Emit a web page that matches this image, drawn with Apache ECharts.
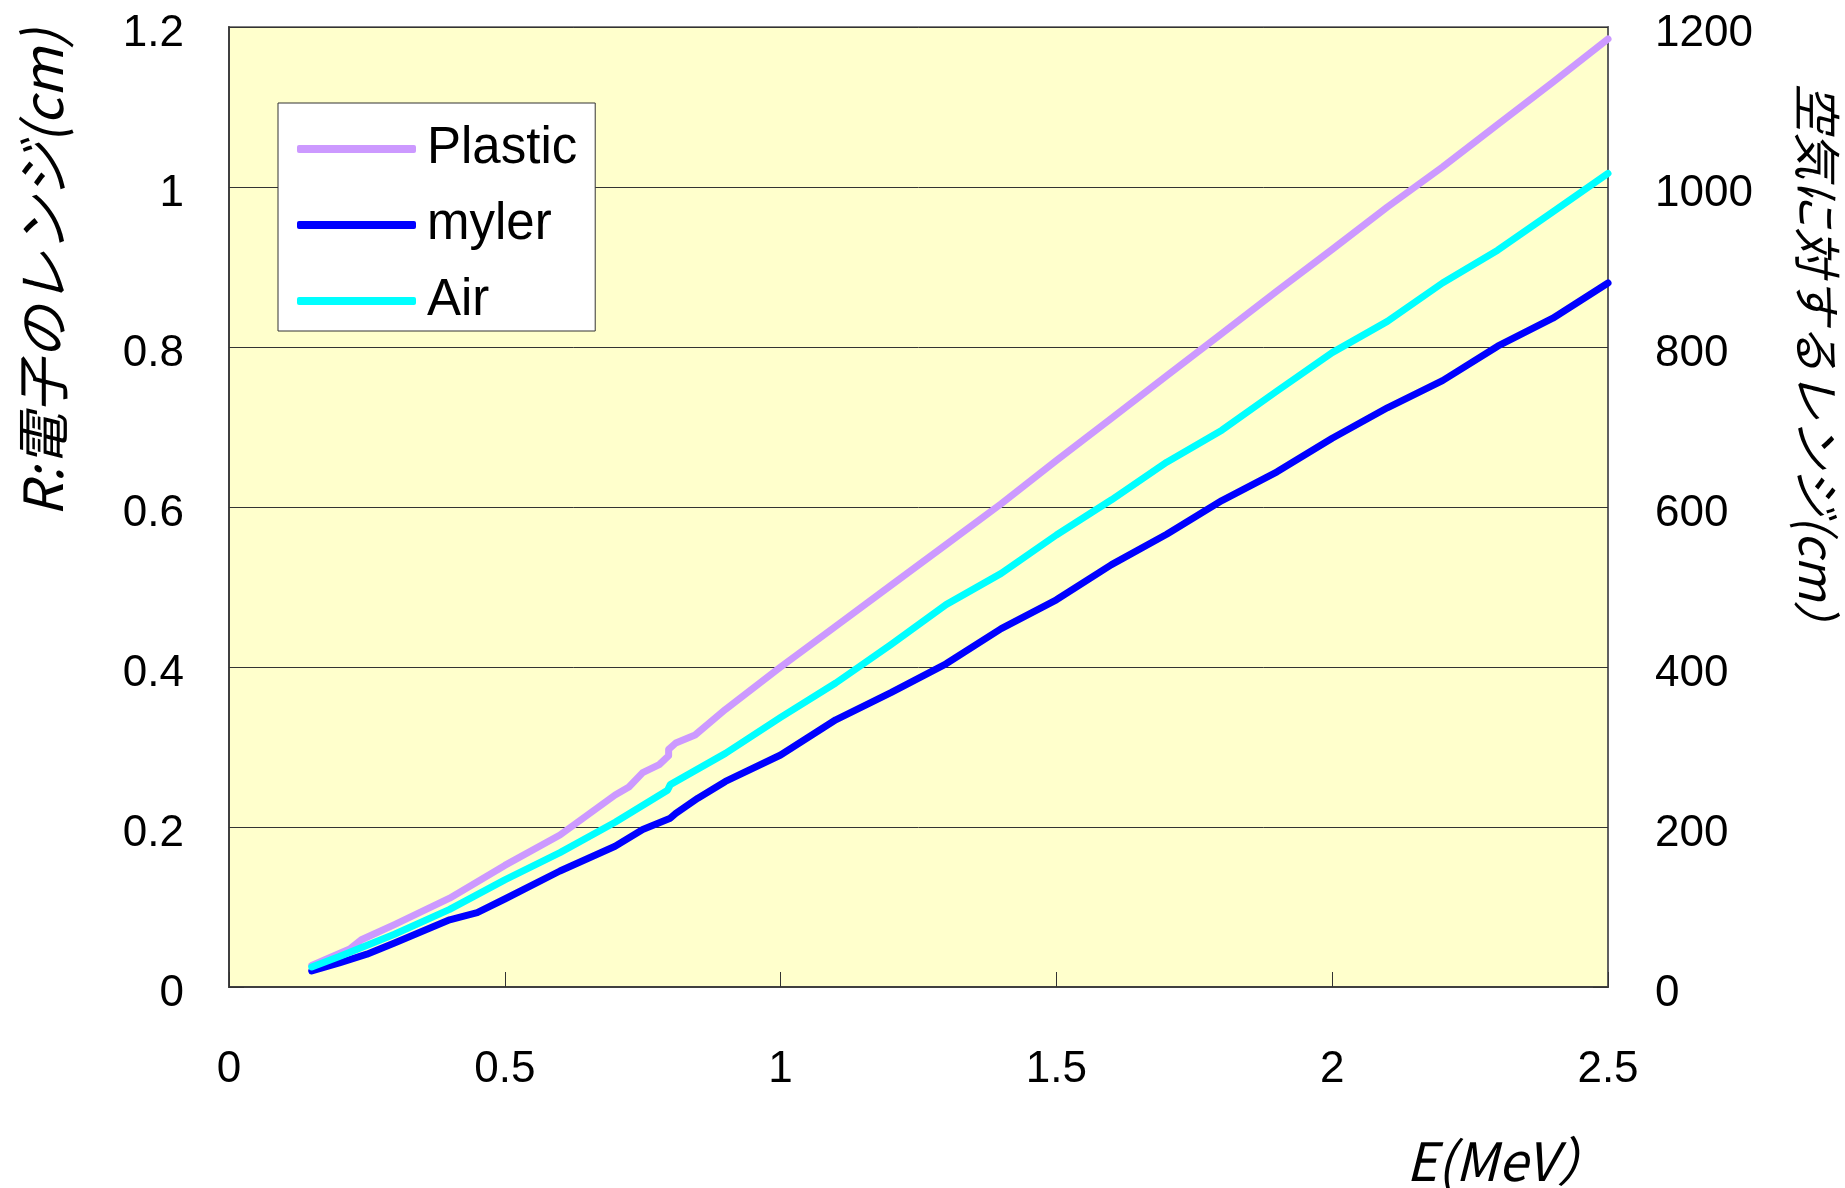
<!DOCTYPE html>
<html>
<head>
<meta charset="utf-8">
<script src="https://cdn.jsdelivr.net/npm/echarts@6/dist/echarts.min.js"></script>
<style>
html,body{margin:0;padding:0;background:#fff;}
#chart{width:1845px;height:1188px;}
</style>
</head>
<body>
<div id="chart"></div>
<script>
// ---- Data ----
const seriesNames = ['Plastic', 'myler', 'Air'];

// Plastic: E (MeV) and range R (cm), left axis
const plasticE = [0.15,0.2,0.22,0.24,0.3,0.4,0.5,0.6,0.7,0.725,0.75,0.78,0.797,0.797,0.81,0.845,0.9,
                  1.0,1.1,1.2,1.3,1.4,1.5,1.6,1.7,1.8,1.9,2.0,2.1,2.2,2.3,2.4,2.5];
const plasticR = [0.027,0.042,0.048,0.059,0.078,0.111,0.152,0.190,0.240,0.250,0.268,0.278,0.289,0.297,0.305,0.315,0.347,
                  0.400,0.451,0.502,0.553,0.604,0.658,0.711,0.764,0.817,0.870,0.922,0.975,1.025,1.078,1.131,1.185];

// myler: E (MeV) and range R (cm), left axis
const mylerE = [0.15,0.2,0.25,0.3,0.4,0.45,0.5,0.6,0.7,0.75,0.8,0.81,0.85,0.9,
                1.0,1.1,1.2,1.3,1.4,1.5,1.6,1.7,1.8,1.9,2.0,2.1,2.2,2.3,2.4,2.5];
const mylerR = [0.020,0.030,0.041,0.055,0.084,0.093,0.110,0.145,0.176,0.197,0.211,0.217,0.236,0.257,
                0.290,0.334,0.368,0.404,0.448,0.484,0.528,0.566,0.608,0.644,0.686,0.724,0.758,0.801,0.836,0.880];

// Air: E (MeV) and range (cm), right axis
const airE = [0.15,0.2,0.3,0.4,0.5,0.6,0.7,0.795,0.8,0.9,
              1.0,1.1,1.2,1.3,1.4,1.5,1.6,1.7,1.8,1.9,2.0,2.1,2.2,2.3,2.4,2.5];
const airR = [25,38,66,97,134,168,206,246,253,292,
              337,380,428,478,517,565,609,656,696,745,793,832,880,921,969,1017];

// Axis scales
const xMin = 0, xMax = 2.5, xStep = 0.5;
const yLeftMin = 0, yLeftMax = 1.2, yLeftStep = 0.2;
const yRightMin = 0, yRightMax = 1200, yRightStep = 200;

// Titles
const xTitle = 'E(MeV）';
const yLeftTitle = 'R:電子のレンジ(cm)';
const yRightTitle = '空気に対するレンジ(cm）';

const colors = ['#CC99FF', '#0000FF', '#00FFFF'];

function pairs(xs, ys) { return xs.map((x, i) => [x, ys[i]]); }

const tickFont = {fontFamily: 'Liberation Sans, Arial, sans-serif', fontSize: 44, color: '#000'};
const fontStack = '"Noto Sans CJK JP", "Liberation Sans", sans-serif';

const chart = echarts.init(document.getElementById('chart'), null, {renderer: 'canvas'});

const lineCommon = {
  type: 'line', showSymbol: false, symbol: 'none', smooth: false, animation: false,
  lineStyle: {width: 7, cap: 'round', join: 'round'}
};

chart.setOption({
  animation: false,
  backgroundColor: '#ffffff',
  color: colors,
  grid: {
    left: 229, top: 27, right: 237, bottom: 201,
    show: true, backgroundColor: '#FFFFCC', borderColor: '#808080', borderWidth: 2
  },
  legend: {
    data: seriesNames,
    orient: 'vertical', left: 278, top: 103,
    padding: [18, 18, 2, 19], itemGap: 20,
    itemWidth: 119, itemHeight: 8, icon: 'roundRect',
    backgroundColor: '#ffffff', borderColor: '#333333', borderWidth: 1,
    textStyle: {fontFamily: 'Liberation Sans, Arial, sans-serif', fontSize: 51, lineHeight: 56, color: '#000', padding: [0, 0, 0, 6]}
  },
  xAxis: {
    type: 'value', min: xMin, max: xMax, interval: xStep,
    axisLine: {show: true, lineStyle: {color: '#404040', width: 2}},
    axisTick: {show: true, inside: true, length: 15, lineStyle: {color: '#333', width: 1}},
    axisLabel: Object.assign({margin: 61}, tickFont),
    splitLine: {show: false}
  },
  yAxis: [
    {
      type: 'value', position: 'left', min: yLeftMin, max: yLeftMax, interval: yLeftStep,
      axisLine: {show: true, lineStyle: {color: '#404040', width: 2}},
      axisTick: {show: true, inside: true, length: 15, lineStyle: {color: '#333', width: 1}},
      axisLabel: Object.assign({margin: 45, verticalAlign: 'top', lineHeight: 14}, tickFont),
      splitLine: {show: true, lineStyle: {color: '#333333', width: 1}}
    },
    {
      type: 'value', position: 'right', min: yRightMin, max: yRightMax, interval: yRightStep,
      axisLine: {show: true, lineStyle: {color: '#606060', width: 2}},
      axisTick: {show: true, inside: true, length: 15, lineStyle: {color: '#333', width: 1}},
      axisLabel: Object.assign({margin: 47, verticalAlign: 'top', lineHeight: 14, formatter: v => String(v)}, tickFont),
      splitLine: {show: false}
    }
  ],
  series: [
    Object.assign({}, lineCommon, {name: seriesNames[0], yAxisIndex: 0, data: pairs(plasticE, plasticR), z: 2}),
    Object.assign({}, lineCommon, {name: seriesNames[1], yAxisIndex: 0, data: pairs(mylerE, mylerR), z: 3}),
    Object.assign({}, lineCommon, {name: seriesNames[2], yAxisIndex: 1, data: pairs(airE, airR), z: 4})
  ],
  graphic: [
    {type: 'text', x: 42, y: 273, rotation: Math.PI / 2,
     style: {text: yLeftTitle, font: 'italic 54px ' + fontStack, fill: '#000', align: 'center', verticalAlign: 'middle'}},
    {type: 'text', x: 1817, y: 366, rotation: -Math.PI / 2,
     style: {text: yRightTitle, font: 'italic 48px ' + fontStack, fill: '#000', align: 'center', verticalAlign: 'middle'}},
    {type: 'text', x: 1508, y: 1161,
     style: {text: xTitle, font: 'italic 53px ' + fontStack, fill: '#000', align: 'center', verticalAlign: 'middle'}}
  ]
});
</script>
</body>
</html>
